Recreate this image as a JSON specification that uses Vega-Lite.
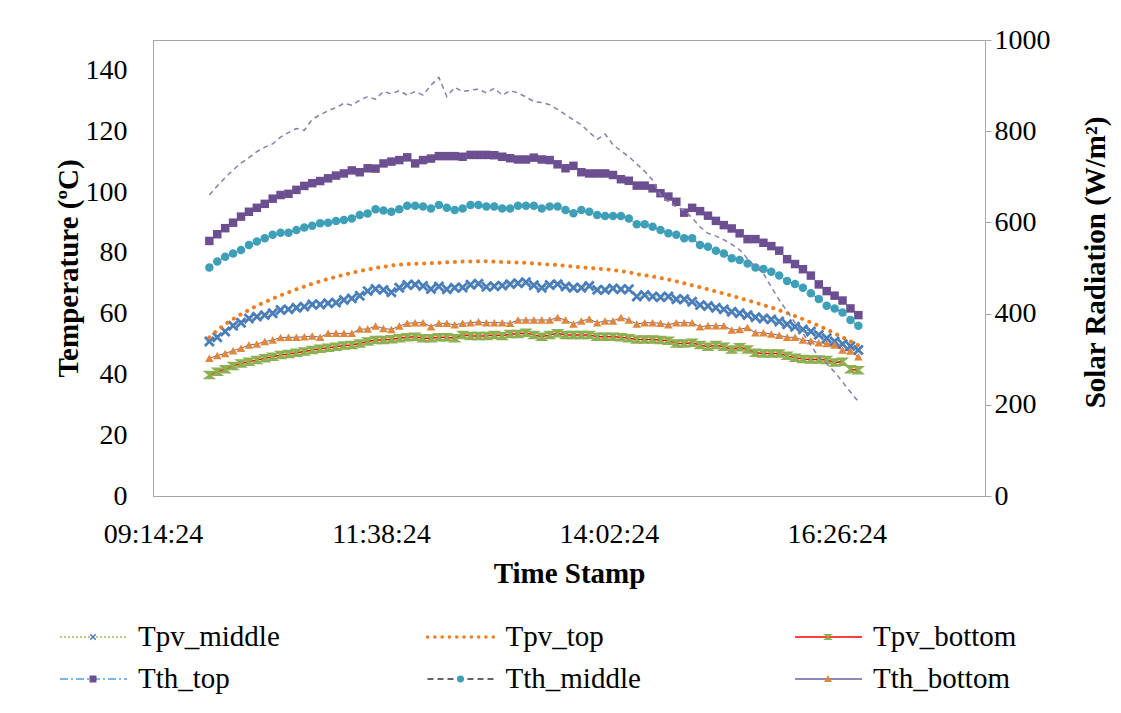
{
  "$schema": "https://vega.github.io/schema/vega-lite/v6.json",
  "width": 832,
  "height": 456,
  "autosize": {"type": "none"},
  "padding": {"left": 153, "top": 40, "right": 136, "bottom": 217},
  "background": "white",
  "config": {
    "font": "Liberation Serif",
    "view": {"stroke": "#a6a6a6", "strokeWidth": 1}
  },
  "data": {"values": [
    {"time":"2000-01-01T09:50","Tpv_middle":50.8,"Tpv_top":52.2,"Tpv_bottom":39.8,"Tth_top":83.9,"Tth_middle":75.2,"Tth_bottom":45.3,"Solar":660},
    {"time":"2000-01-01T09:55","Tpv_middle":52.2,"Tpv_top":54.5,"Tpv_bottom":40.9,"Tth_top":86.1,"Tth_middle":77.1,"Tth_bottom":46.2,"Solar":680},
    {"time":"2000-01-01T10:00","Tpv_middle":54.1,"Tpv_top":56.5,"Tpv_bottom":41.7,"Tth_top":88.1,"Tth_middle":78.7,"Tth_bottom":46.9,"Solar":698},
    {"time":"2000-01-01T10:05","Tpv_middle":56.0,"Tpv_top":58.2,"Tpv_bottom":42.8,"Tth_top":89.9,"Tth_middle":79.8,"Tth_bottom":47.8,"Solar":715},
    {"time":"2000-01-01T10:10","Tpv_middle":57.0,"Tpv_top":59.8,"Tpv_bottom":43.6,"Tth_top":91.9,"Tth_middle":80.9,"Tth_bottom":48.6,"Solar":730},
    {"time":"2000-01-01T10:15","Tpv_middle":58.4,"Tpv_top":61.2,"Tpv_bottom":44.2,"Tth_top":93.5,"Tth_middle":82.6,"Tth_bottom":49.7,"Solar":742},
    {"time":"2000-01-01T10:20","Tpv_middle":59.0,"Tpv_top":62.6,"Tpv_bottom":44.7,"Tth_top":94.8,"Tth_middle":83.7,"Tth_bottom":50.0,"Solar":755},
    {"time":"2000-01-01T10:25","Tpv_middle":59.5,"Tpv_top":63.8,"Tpv_bottom":45.3,"Tth_top":96.1,"Tth_middle":84.8,"Tth_bottom":50.8,"Solar":765},
    {"time":"2000-01-01T10:30","Tpv_middle":60.1,"Tpv_top":64.9,"Tpv_bottom":45.8,"Tth_top":97.8,"Tth_middle":85.9,"Tth_bottom":51.3,"Solar":772},
    {"time":"2000-01-01T10:35","Tpv_middle":61.2,"Tpv_top":66.0,"Tpv_bottom":46.4,"Tth_top":99.0,"Tth_middle":86.6,"Tth_bottom":52.1,"Solar":787},
    {"time":"2000-01-01T10:40","Tpv_middle":61.4,"Tpv_top":67.0,"Tpv_bottom":46.7,"Tth_top":99.4,"Tth_middle":86.6,"Tth_bottom":52.2,"Solar":797},
    {"time":"2000-01-01T10:45","Tpv_middle":61.9,"Tpv_top":68.0,"Tpv_bottom":47.1,"Tth_top":100.7,"Tth_middle":87.5,"Tth_bottom":52.2,"Solar":806},
    {"time":"2000-01-01T10:50","Tpv_middle":62.3,"Tpv_top":68.9,"Tpv_bottom":47.5,"Tth_top":102.0,"Tth_middle":88.3,"Tth_bottom":52.4,"Solar":802},
    {"time":"2000-01-01T10:55","Tpv_middle":63.0,"Tpv_top":69.8,"Tpv_bottom":48.0,"Tth_top":102.9,"Tth_middle":88.9,"Tth_bottom":52.6,"Solar":826},
    {"time":"2000-01-01T11:00","Tpv_middle":63.0,"Tpv_top":70.6,"Tpv_bottom":48.4,"Tth_top":103.6,"Tth_middle":89.7,"Tth_bottom":52.2,"Solar":836},
    {"time":"2000-01-01T11:05","Tpv_middle":63.4,"Tpv_top":71.4,"Tpv_bottom":48.8,"Tth_top":104.5,"Tth_middle":89.9,"Tth_bottom":53.5,"Solar":845},
    {"time":"2000-01-01T11:10","Tpv_middle":63.6,"Tpv_top":72.1,"Tpv_bottom":49.1,"Tth_top":105.4,"Tth_middle":90.5,"Tth_bottom":53.5,"Solar":852},
    {"time":"2000-01-01T11:15","Tpv_middle":64.5,"Tpv_top":72.8,"Tpv_bottom":49.5,"Tth_top":106.1,"Tth_middle":90.8,"Tth_bottom":53.5,"Solar":861},
    {"time":"2000-01-01T11:20","Tpv_middle":65.0,"Tpv_top":73.4,"Tpv_bottom":49.7,"Tth_top":107.1,"Tth_middle":91.3,"Tth_bottom":53.5,"Solar":857},
    {"time":"2000-01-01T11:25","Tpv_middle":65.9,"Tpv_top":74.0,"Tpv_bottom":50.2,"Tth_top":106.5,"Tth_middle":92.4,"Tth_bottom":54.9,"Solar":868},
    {"time":"2000-01-01T11:30","Tpv_middle":67.4,"Tpv_top":74.5,"Tpv_bottom":50.8,"Tth_top":107.8,"Tth_middle":92.9,"Tth_bottom":54.9,"Solar":876},
    {"time":"2000-01-01T11:35","Tpv_middle":68.1,"Tpv_top":75.0,"Tpv_bottom":51.3,"Tth_top":107.7,"Tth_middle":94.3,"Tth_bottom":55.9,"Solar":870},
    {"time":"2000-01-01T11:40","Tpv_middle":67.8,"Tpv_top":75.4,"Tpv_bottom":51.3,"Tth_top":109.4,"Tth_middle":93.9,"Tth_bottom":55.1,"Solar":887},
    {"time":"2000-01-01T11:45","Tpv_middle":67.0,"Tpv_top":75.8,"Tpv_bottom":51.6,"Tth_top":110.0,"Tth_middle":93.5,"Tth_bottom":54.8,"Solar":882},
    {"time":"2000-01-01T11:50","Tpv_middle":68.5,"Tpv_top":76.1,"Tpv_bottom":51.9,"Tth_top":110.5,"Tth_middle":94.3,"Tth_bottom":55.9,"Solar":889},
    {"time":"2000-01-01T11:55","Tpv_middle":69.4,"Tpv_top":76.3,"Tpv_bottom":52.2,"Tth_top":111.4,"Tth_middle":95.5,"Tth_bottom":56.8,"Solar":879},
    {"time":"2000-01-01T12:00","Tpv_middle":69.6,"Tpv_top":76.4,"Tpv_bottom":52.4,"Tth_top":109.4,"Tth_middle":95.5,"Tth_bottom":57.0,"Solar":887},
    {"time":"2000-01-01T12:05","Tpv_middle":69.1,"Tpv_top":76.5,"Tpv_bottom":51.9,"Tth_top":110.5,"Tth_middle":95.2,"Tth_bottom":57.0,"Solar":879},
    {"time":"2000-01-01T12:10","Tpv_middle":68.1,"Tpv_top":76.6,"Tpv_bottom":51.9,"Tth_top":111.0,"Tth_middle":94.6,"Tth_bottom":55.7,"Solar":901},
    {"time":"2000-01-01T12:15","Tpv_middle":68.9,"Tpv_top":76.7,"Tpv_bottom":52.2,"Tth_top":111.8,"Tth_middle":95.7,"Tth_bottom":56.8,"Solar":918},
    {"time":"2000-01-01T12:20","Tpv_middle":68.0,"Tpv_top":76.9,"Tpv_bottom":52.2,"Tth_top":111.8,"Tth_middle":94.8,"Tth_bottom":56.8,"Solar":876},
    {"time":"2000-01-01T12:25","Tpv_middle":68.5,"Tpv_top":77.0,"Tpv_bottom":51.9,"Tth_top":111.8,"Tth_middle":94.1,"Tth_bottom":56.3,"Solar":896},
    {"time":"2000-01-01T12:30","Tpv_middle":68.6,"Tpv_top":77.1,"Tpv_bottom":53.0,"Tth_top":111.6,"Tth_middle":94.6,"Tth_bottom":56.8,"Solar":887},
    {"time":"2000-01-01T12:35","Tpv_middle":69.5,"Tpv_top":77.1,"Tpv_bottom":52.6,"Tth_top":112.2,"Tth_middle":95.7,"Tth_bottom":57.0,"Solar":890},
    {"time":"2000-01-01T12:40","Tpv_middle":69.8,"Tpv_top":77.2,"Tpv_bottom":52.6,"Tth_top":112.2,"Tth_middle":95.7,"Tth_bottom":57.3,"Solar":892},
    {"time":"2000-01-01T12:45","Tpv_middle":68.8,"Tpv_top":77.2,"Tpv_bottom":52.6,"Tth_top":112.2,"Tth_middle":95.2,"Tth_bottom":57.0,"Solar":884},
    {"time":"2000-01-01T12:50","Tpv_middle":69.0,"Tpv_top":77.1,"Tpv_bottom":53.0,"Tth_top":112.1,"Tth_middle":95.2,"Tth_bottom":57.0,"Solar":894},
    {"time":"2000-01-01T12:55","Tpv_middle":69.2,"Tpv_top":77.0,"Tpv_bottom":52.6,"Tth_top":111.6,"Tth_middle":94.6,"Tth_bottom":57.0,"Solar":879},
    {"time":"2000-01-01T13:00","Tpv_middle":69.7,"Tpv_top":76.9,"Tpv_bottom":53.3,"Tth_top":111.1,"Tth_middle":94.6,"Tth_bottom":56.8,"Solar":889},
    {"time":"2000-01-01T13:05","Tpv_middle":70.0,"Tpv_top":76.8,"Tpv_bottom":53.3,"Tth_top":110.7,"Tth_middle":95.5,"Tth_bottom":57.9,"Solar":884},
    {"time":"2000-01-01T13:10","Tpv_middle":70.3,"Tpv_top":76.7,"Tpv_bottom":53.7,"Tth_top":110.7,"Tth_middle":95.5,"Tth_bottom":57.9,"Solar":875},
    {"time":"2000-01-01T13:15","Tpv_middle":69.3,"Tpv_top":76.5,"Tpv_bottom":53.0,"Tth_top":111.3,"Tth_middle":95.5,"Tth_bottom":57.9,"Solar":865},
    {"time":"2000-01-01T13:20","Tpv_middle":68.5,"Tpv_top":76.3,"Tpv_bottom":52.4,"Tth_top":110.7,"Tth_middle":94.6,"Tth_bottom":57.9,"Solar":863},
    {"time":"2000-01-01T13:25","Tpv_middle":69.4,"Tpv_top":76.1,"Tpv_bottom":53.0,"Tth_top":110.5,"Tth_middle":95.2,"Tth_bottom":57.9,"Solar":858},
    {"time":"2000-01-01T13:30","Tpv_middle":69.7,"Tpv_top":76.0,"Tpv_bottom":53.5,"Tth_top":109.1,"Tth_middle":95.2,"Tth_bottom":58.7,"Solar":848},
    {"time":"2000-01-01T13:35","Tpv_middle":68.9,"Tpv_top":75.7,"Tpv_bottom":53.0,"Tth_top":107.8,"Tth_middle":94.1,"Tth_bottom":57.9,"Solar":836},
    {"time":"2000-01-01T13:40","Tpv_middle":68.5,"Tpv_top":75.5,"Tpv_bottom":53.0,"Tth_top":108.6,"Tth_middle":93.0,"Tth_bottom":56.6,"Solar":825},
    {"time":"2000-01-01T13:45","Tpv_middle":68.5,"Tpv_top":75.2,"Tpv_bottom":53.0,"Tth_top":106.5,"Tth_middle":94.1,"Tth_bottom":57.6,"Solar":814},
    {"time":"2000-01-01T13:50","Tpv_middle":69.1,"Tpv_top":75.0,"Tpv_bottom":53.0,"Tth_top":106.1,"Tth_middle":93.5,"Tth_bottom":58.2,"Solar":798},
    {"time":"2000-01-01T13:55","Tpv_middle":67.8,"Tpv_top":74.8,"Tpv_bottom":52.4,"Tth_top":106.1,"Tth_middle":92.4,"Tth_bottom":57.0,"Solar":782},
    {"time":"2000-01-01T14:00","Tpv_middle":67.8,"Tpv_top":74.6,"Tpv_bottom":52.4,"Tth_top":106.1,"Tth_middle":92.1,"Tth_bottom":57.6,"Solar":794},
    {"time":"2000-01-01T14:05","Tpv_middle":68.3,"Tpv_top":74.3,"Tpv_bottom":52.4,"Tth_top":105.6,"Tth_middle":92.1,"Tth_bottom":57.6,"Solar":770},
    {"time":"2000-01-01T14:10","Tpv_middle":68.0,"Tpv_top":74.0,"Tpv_bottom":52.2,"Tth_top":104.2,"Tth_middle":92.1,"Tth_bottom":58.7,"Solar":757},
    {"time":"2000-01-01T14:15","Tpv_middle":68.0,"Tpv_top":73.6,"Tpv_bottom":51.9,"Tth_top":103.7,"Tth_middle":91.3,"Tth_bottom":57.9,"Solar":744},
    {"time":"2000-01-01T14:20","Tpv_middle":65.6,"Tpv_top":73.0,"Tpv_bottom":51.5,"Tth_top":102.1,"Tth_middle":89.4,"Tth_bottom":56.6,"Solar":728},
    {"time":"2000-01-01T14:25","Tpv_middle":66.1,"Tpv_top":72.6,"Tpv_bottom":51.5,"Tth_top":102.1,"Tth_middle":89.4,"Tth_bottom":57.0,"Solar":712},
    {"time":"2000-01-01T14:30","Tpv_middle":65.6,"Tpv_top":72.2,"Tpv_bottom":51.5,"Tth_top":101.2,"Tth_middle":88.6,"Tth_bottom":57.0,"Solar":693},
    {"time":"2000-01-01T14:35","Tpv_middle":65.4,"Tpv_top":71.7,"Tpv_bottom":51.3,"Tth_top":99.6,"Tth_middle":87.5,"Tth_bottom":56.8,"Solar":660},
    {"time":"2000-01-01T14:40","Tpv_middle":65.6,"Tpv_top":71.2,"Tpv_bottom":51.1,"Tth_top":98.5,"Tth_middle":86.4,"Tth_bottom":56.3,"Solar":645},
    {"time":"2000-01-01T14:45","Tpv_middle":64.7,"Tpv_top":70.6,"Tpv_bottom":50.2,"Tth_top":96.8,"Tth_middle":85.9,"Tth_bottom":57.0,"Solar":634},
    {"time":"2000-01-01T14:50","Tpv_middle":64.7,"Tpv_top":70.0,"Tpv_bottom":50.2,"Tth_top":93.2,"Tth_middle":84.8,"Tth_bottom":57.0,"Solar":626},
    {"time":"2000-01-01T14:55","Tpv_middle":63.9,"Tpv_top":69.3,"Tpv_bottom":50.4,"Tth_top":94.8,"Tth_middle":84.8,"Tth_bottom":57.0,"Solar":610},
    {"time":"2000-01-01T15:00","Tpv_middle":62.8,"Tpv_top":68.7,"Tpv_bottom":49.7,"Tth_top":93.7,"Tth_middle":82.6,"Tth_bottom":55.7,"Solar":590},
    {"time":"2000-01-01T15:05","Tpv_middle":62.5,"Tpv_top":68.0,"Tpv_bottom":49.1,"Tth_top":92.2,"Tth_middle":82.0,"Tth_bottom":56.0,"Solar":576},
    {"time":"2000-01-01T15:10","Tpv_middle":61.9,"Tpv_top":67.3,"Tpv_bottom":49.7,"Tth_top":90.5,"Tth_middle":80.7,"Tth_bottom":56.0,"Solar":570},
    {"time":"2000-01-01T15:15","Tpv_middle":61.4,"Tpv_top":66.6,"Tpv_bottom":49.1,"Tth_top":89.1,"Tth_middle":79.8,"Tth_bottom":56.0,"Solar":562},
    {"time":"2000-01-01T15:20","Tpv_middle":60.6,"Tpv_top":65.9,"Tpv_bottom":48.2,"Tth_top":88.0,"Tth_middle":78.2,"Tth_bottom":54.6,"Solar":552},
    {"time":"2000-01-01T15:25","Tpv_middle":60.1,"Tpv_top":65.1,"Tpv_bottom":48.9,"Tth_top":86.4,"Tth_middle":77.6,"Tth_bottom":54.8,"Solar":540},
    {"time":"2000-01-01T15:30","Tpv_middle":59.5,"Tpv_top":64.4,"Tpv_bottom":48.2,"Tth_top":84.5,"Tth_middle":76.5,"Tth_bottom":55.4,"Solar":520},
    {"time":"2000-01-01T15:35","Tpv_middle":58.8,"Tpv_top":63.6,"Tpv_bottom":47.1,"Tth_top":84.5,"Tth_middle":75.2,"Tth_bottom":53.7,"Solar":503},
    {"time":"2000-01-01T15:40","Tpv_middle":58.4,"Tpv_top":62.8,"Tpv_bottom":46.9,"Tth_top":83.3,"Tth_middle":74.7,"Tth_bottom":53.7,"Solar":488},
    {"time":"2000-01-01T15:45","Tpv_middle":58.1,"Tpv_top":62.0,"Tpv_bottom":46.9,"Tth_top":82.2,"Tth_middle":73.8,"Tth_bottom":53.3,"Solar":458},
    {"time":"2000-01-01T15:50","Tpv_middle":57.4,"Tpv_top":61.1,"Tpv_bottom":46.9,"Tth_top":80.7,"Tth_middle":72.5,"Tth_bottom":52.9,"Solar":430},
    {"time":"2000-01-01T15:55","Tpv_middle":56.5,"Tpv_top":60.2,"Tpv_bottom":46.1,"Tth_top":77.9,"Tth_middle":70.7,"Tth_bottom":52.2,"Solar":405},
    {"time":"2000-01-01T16:00","Tpv_middle":55.7,"Tpv_top":59.2,"Tpv_bottom":45.5,"Tth_top":76.3,"Tth_middle":69.7,"Tth_bottom":52.2,"Solar":380},
    {"time":"2000-01-01T16:05","Tpv_middle":54.8,"Tpv_top":58.2,"Tpv_bottom":45.1,"Tth_top":74.6,"Tth_middle":68.5,"Tth_bottom":51.3,"Solar":357},
    {"time":"2000-01-01T16:10","Tpv_middle":54.1,"Tpv_top":57.1,"Tpv_bottom":44.9,"Tth_top":72.5,"Tth_middle":66.7,"Tth_bottom":51.1,"Solar":330},
    {"time":"2000-01-01T16:15","Tpv_middle":53.0,"Tpv_top":56.0,"Tpv_bottom":44.9,"Tth_top":69.6,"Tth_middle":64.8,"Tth_bottom":50.4,"Solar":305},
    {"time":"2000-01-01T16:20","Tpv_middle":51.9,"Tpv_top":54.8,"Tpv_bottom":44.7,"Tth_top":67.4,"Tth_middle":62.6,"Tth_bottom":50.2,"Solar":290},
    {"time":"2000-01-01T16:25","Tpv_middle":50.8,"Tpv_top":53.5,"Tpv_bottom":43.9,"Tth_top":65.9,"Tth_middle":61.7,"Tth_bottom":49.7,"Solar":272},
    {"time":"2000-01-01T16:30","Tpv_middle":50.0,"Tpv_top":52.2,"Tpv_bottom":44.2,"Tth_top":64.3,"Tth_middle":60.4,"Tth_bottom":48.0,"Solar":250},
    {"time":"2000-01-01T16:35","Tpv_middle":49.3,"Tpv_top":50.9,"Tpv_bottom":41.7,"Tth_top":61.7,"Tth_middle":57.9,"Tth_bottom":47.7,"Solar":228},
    {"time":"2000-01-01T16:40","Tpv_middle":48.0,"Tpv_top":49.6,"Tpv_bottom":41.4,"Tth_top":59.5,"Tth_middle":56.0,"Tth_bottom":45.8,"Solar":207}
  ]},
  "layer": [
    {
      "transform": [{"fold": ["Tpv_middle","Tpv_top","Tpv_bottom","Tth_top","Tth_middle","Tth_bottom"], "as": ["series","value"]}],
      "encoding": {
        "x": {"field": "time", "type": "temporal",
          "scale": {"domain": [{"year":2000,"month":1,"date":1,"hours":9,"minutes":14,"seconds":24},{"year":2000,"month":1,"date":1,"hours":18,"minutes":0,"seconds":0}], "nice": false},
          "axis": {"title": "Time Stamp", "format": "%H:%M:%S",
            "values": [{"year":2000,"month":1,"date":1,"hours":9,"minutes":14,"seconds":24},{"year":2000,"month":1,"date":1,"hours":11,"minutes":38,"seconds":24},{"year":2000,"month":1,"date":1,"hours":14,"minutes":2,"seconds":24},{"year":2000,"month":1,"date":1,"hours":16,"minutes":26,"seconds":24}],
            "grid": false, "ticks": false, "domainColor": "#a6a6a6", "labelFlush": false, "labelOverlap": false,
            "labelFont": "Liberation Serif", "labelFontSize": 28, "labelColor": "#000000", "labelPadding": 24,
            "titleFont": "Liberation Serif", "titleFontSize": 29, "titleFontWeight": "bold", "titleColor": "#000000",
            "titleX": 416, "titleY": 77, "titleAlign": "center", "titleBaseline": "middle"}},
        "y": {"field": "value", "type": "quantitative",
          "scale": {"domain": [0,150], "nice": false},
          "axis": {"title": "Temperature (ºC)", "values": [0,20,40,60,80,100,120,140], "grid": false, "ticks": false,
            "domainColor": "#a6a6a6", "labelFont": "Liberation Serif", "labelFontSize": 28, "labelColor": "#000000", "labelPadding": 26,
            "titleFont": "Liberation Serif", "titleFontSize": 29, "titleFontWeight": "bold", "titleColor": "#000000",
            "titleX": -85, "titleY": 228, "titleAngle": 270, "titleAlign": "center", "titleBaseline": "middle"}}
      },
      "layer": [
        {"transform": [{"filter": "datum.series == 'Tpv_middle'"}], "mark": {"type": "line", "color": "#9bbb59", "strokeWidth": 1, "strokeDash": [2,2]}},
        {"transform": [{"filter": "datum.series == 'Tpv_middle'"}], "mark": {"type": "point", "shape": "M-1,-1L1,1M1,-1L-1,1", "filled": false, "color": "#4a7ebb", "strokeWidth": 2.8, "size": 80, "opacity": 1}},
        {"transform": [{"filter": "datum.series == 'Tpv_top'"}], "mark": {"type": "line", "color": "#f07d1e", "strokeWidth": 4, "strokeCap": "round", "strokeDash": [0.1,7.6]}},
        {"transform": [{"filter": "datum.series == 'Tpv_bottom'"}], "mark": {"type": "line", "color": "#ff0000", "strokeWidth": 1.5}},
        {"transform": [{"filter": "datum.series == 'Tpv_bottom'"}], "mark": {"type": "point", "shape": "M-1,-0.8L1,-0.8L-1,0.8L1,0.8Z", "filled": true, "color": "#8db050", "stroke": "#8db050", "strokeWidth": 1.8, "size": 70, "opacity": 1}},
        {"transform": [{"filter": "datum.series == 'Tth_top'"}], "mark": {"type": "line", "color": "#5aa0d8", "strokeWidth": 1, "strokeDash": [6,2,2,2]}},
        {"transform": [{"filter": "datum.series == 'Tth_top'"}], "mark": {"type": "point", "shape": "square", "filled": true, "color": "#6c4f91", "size": 72, "opacity": 1}},
        {"transform": [{"filter": "datum.series == 'Tth_middle'"}], "mark": {"type": "line", "color": "#333333", "strokeWidth": 1, "strokeDash": [4,3]}},
        {"transform": [{"filter": "datum.series == 'Tth_middle'"}], "mark": {"type": "point", "shape": "circle", "filled": true, "color": "#3d9fb8", "size": 72, "opacity": 1}},
        {"transform": [{"filter": "datum.series == 'Tth_bottom'"}], "mark": {"type": "line", "color": "#7060a0", "strokeWidth": 1}},
        {"transform": [{"filter": "datum.series == 'Tth_bottom'"}], "mark": {"type": "point", "shape": "triangle-up", "filled": true, "color": "#e0873a", "size": 75, "opacity": 1}}
      ]
    },
    {
      "mark": {"type": "line", "color": "#8a7dab", "strokeWidth": 1.5, "strokeDash": [5,4]},
      "encoding": {
        "x": {"field": "time", "type": "temporal",
          "scale": {"domain": [{"year":2000,"month":1,"date":1,"hours":9,"minutes":14,"seconds":24},{"year":2000,"month":1,"date":1,"hours":18,"minutes":0,"seconds":0}], "nice": false},
          "axis": null},
        "y": {"field": "Solar", "type": "quantitative",
          "scale": {"domain": [0,1000], "nice": false},
          "axis": {"orient": "right", "title": "Solar Radiation (W/m²)", "values": [0,200,400,600,800,1000], "format": "d", "grid": false,
            "ticks": true, "tickSize": 6, "tickColor": "#a6a6a6", "domainColor": "#a6a6a6",
            "labelFont": "Liberation Serif", "labelFontSize": 28, "labelColor": "#000000", "labelPadding": 3,
            "titleFont": "Liberation Serif", "titleFontSize": 29, "titleFontWeight": "bold", "titleColor": "#000000",
            "titleX": 110, "titleY": 222, "titleAngle": 270, "titleAlign": "center", "titleBaseline": "middle"}}
      }
    },
    {
      "data": {"values": [{"name": "Tpv_middle"},{"name": "Tpv_top"},{"name": "Tpv_bottom"},{"name": "Tth_top"},{"name": "Tth_middle"},{"name": "Tth_bottom"}]},
      "transform": [
        {"calculate": "indexof(['Tpv_middle','Tpv_top','Tpv_bottom','Tth_top','Tth_middle','Tth_bottom'], datum.name)", "as": "idx"},
        {"calculate": "datum.idx % 3", "as": "col"},
        {"calculate": "floor(datum.idx / 3)", "as": "row"}
      ],
      "encoding": {
        "x": {"field": "col", "type": "quantitative", "scale": {"domain": [0,2], "range": [-93,642], "nice": false, "zero": false}, "axis": null},
        "y": {"field": "row", "type": "quantitative", "scale": {"domain": [0,1], "range": [597,639], "nice": false, "zero": false}, "axis": null}
      },
      "layer": [
        {"transform": [{"filter": "datum.name != 'Tpv_top'"}],
         "mark": {"type": "rule", "x2Offset": 67, "strokeWidth": 1.5},
         "encoding": {
           "x2": {"field": "col"},
           "color": {"field": "name", "type": "nominal", "scale": {"domain": ["Tpv_middle","Tpv_bottom","Tth_top","Tth_middle","Tth_bottom"], "range": ["#9bbb59","#ff0000","#4fa3e0","#333333","#7060a0"]}, "legend": null},
           "strokeDash": {"field": "name", "type": "nominal", "scale": {"domain": ["Tpv_middle","Tpv_bottom","Tth_top","Tth_middle","Tth_bottom"], "range": [[2,2],[1,0],[8,3,2,3],[6,4],[1,0]]}, "legend": null}
         }},
        {"transform": [{"filter": "datum.name == 'Tpv_top'"}],
         "mark": {"type": "rule", "x2Offset": 67, "strokeWidth": 3.5, "strokeCap": "round", "strokeDash": [0.1,7.2], "color": "#f07d1e"},
         "encoding": {"x2": {"field": "col"}}},
        {"transform": [{"filter": "datum.name != 'Tpv_top'"}],
         "mark": {"type": "point", "xOffset": 33, "filled": true, "size": 30, "strokeWidth": 1.5, "opacity": 1},
         "encoding": {
           "shape": {"field": "name", "type": "nominal", "scale": {"domain": ["Tpv_middle","Tpv_bottom","Tth_top","Tth_middle","Tth_bottom"], "range": ["M-1,-1L1,1M1,-1L-1,1","M-1,-0.8L1,-0.8L-1,0.8L1,0.8Z","square","circle","triangle-up"]}, "legend": null},
           "fill": {"field": "name", "type": "nominal", "scale": {"domain": ["Tpv_middle","Tpv_bottom","Tth_top","Tth_middle","Tth_bottom"], "range": ["#4a7ebb","#8db050","#6c4f91","#3d9fb8","#e0873a"]}, "legend": null},
           "stroke": {"field": "name", "type": "nominal", "scale": {"domain": ["Tpv_middle","Tpv_bottom","Tth_top","Tth_middle","Tth_bottom"], "range": ["#4a7ebb","#8db050","#6c4f91","#3d9fb8","#e0873a"]}, "legend": null}
         }},
        {"mark": {"type": "text", "align": "left", "baseline": "middle", "xOffset": 78, "font": "Liberation Serif", "fontSize": 29, "color": "#000000"},
         "encoding": {"text": {"field": "name"}}}
      ]
    }
  ],
  "resolve": {"scale": {"x": "independent", "y": "independent"}}
}
